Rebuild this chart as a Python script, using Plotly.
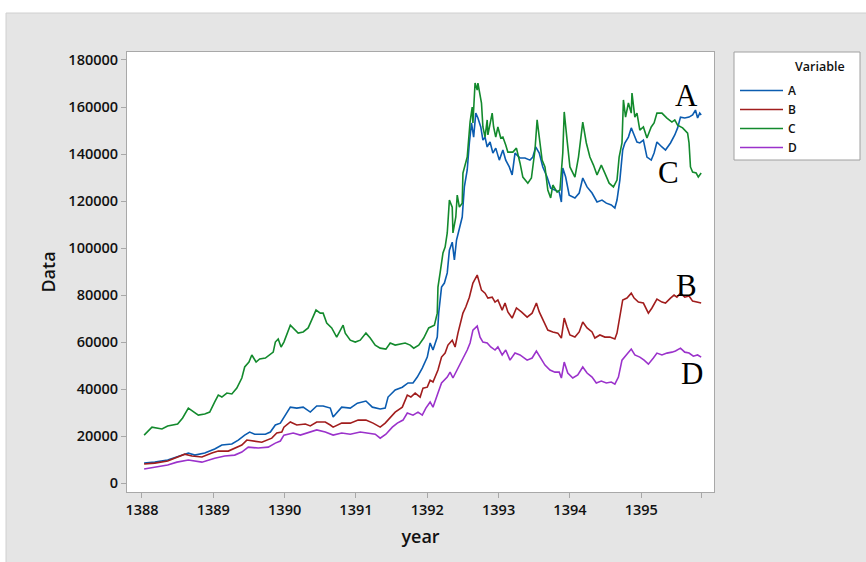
import plotly.graph_objects as go

# ---- data ----
xA = [1388.03, 1388.18, 1388.36, 1388.5, 1388.65, 1388.74, 1388.88, 1389.02, 1389.12, 1389.26, 1389.35, 1389.44,
      1389.51, 1389.58, 1389.73, 1389.8, 1389.87, 1389.94, 1389.99, 1390.08, 1390.17, 1390.26, 1390.36, 1390.45,
      1390.54, 1390.64, 1390.68, 1390.73, 1390.8, 1390.92, 1391.02, 1391.14, 1391.23, 1391.34, 1391.41, 1391.45,
      1391.55, 1391.65, 1391.73, 1391.8, 1391.86, 1391.93, 1392.0, 1392.04, 1392.08, 1392.14, 1392.16, 1392.2,
      1392.24, 1392.28, 1392.31, 1392.35, 1392.38, 1392.41, 1392.45, 1392.49, 1392.52, 1392.56, 1392.59, 1392.62,
      1392.65, 1392.68, 1392.71, 1392.75, 1392.78, 1392.81, 1392.84, 1392.88, 1392.92, 1392.96, 1393.01, 1393.06,
      1393.1, 1393.15, 1393.19, 1393.23, 1393.3, 1393.37, 1393.44, 1393.48, 1393.52, 1393.57, 1393.62, 1393.68,
      1393.73, 1393.79, 1393.85, 1393.88, 1393.9, 1393.94, 1393.99, 1394.07, 1394.13, 1394.18, 1394.24, 1394.31,
      1394.38, 1394.45, 1394.51, 1394.58, 1394.63, 1394.66, 1394.7, 1394.74, 1394.77, 1394.82, 1394.86, 1394.9,
      1394.94, 1394.98, 1395.03, 1395.08, 1395.14, 1395.18, 1395.22, 1395.29, 1395.34, 1395.41, 1395.47, 1395.51,
      1395.55, 1395.61, 1395.67, 1395.72, 1395.76, 1395.79, 1395.82, 1395.84]
A = [8500, 8900, 9800, 11100, 12800, 11900, 12800, 14500, 16200, 16600, 18300, 20400,
     21700, 20800, 20800, 21700, 24700, 25500, 28100, 32300, 31900, 32300, 30200, 32800,
     32800, 31900, 28100, 29800, 32300, 31900, 34000, 34900, 32300, 31500, 31900, 36600,
     39600, 40800, 42600, 42600, 45100, 48900, 53600, 59600, 56600, 62100, 72300, 83400,
     85100, 89400, 99100, 102500, 94900, 103400, 108900, 113200, 126000, 133200, 144700, 153200,
     147200, 157400, 155300, 151500, 145900, 147200, 143000, 145100, 140400, 142500, 137400, 141700,
     137400, 134500, 131100, 140400, 138300, 138300, 137400, 138700, 143000, 140400, 134500, 130200,
     125500, 124700, 123800, 119600, 134000, 130200, 122500, 121300, 123400, 129800, 126000, 123400,
     119600, 120400, 119100, 118300, 117000, 120400, 128900, 141700, 144700, 147200, 151100, 148100,
     145100, 144700, 145900, 138700, 137400, 140400, 145100, 143000, 141700, 144700, 148100, 151100,
     155700, 155300, 155700, 156600, 158700, 155300, 157400, 156600]

xB = [1388.03, 1388.18, 1388.36, 1388.49, 1388.6, 1388.7, 1388.84, 1388.98, 1389.07, 1389.21, 1389.3, 1389.4,
      1389.47, 1389.54, 1389.68, 1389.82, 1389.89, 1389.96, 1389.99, 1390.08, 1390.17, 1390.29, 1390.36, 1390.45,
      1390.57, 1390.64, 1390.68, 1390.8, 1390.92, 1391.03, 1391.14, 1391.24, 1391.34, 1391.41, 1391.48, 1391.55,
      1391.65, 1391.72, 1391.77, 1391.83, 1391.9, 1391.94, 1392.0, 1392.04, 1392.08, 1392.15, 1392.2, 1392.25,
      1392.29, 1392.35, 1392.39, 1392.43, 1392.5, 1392.54, 1392.59, 1392.64, 1392.7, 1392.73, 1392.76, 1392.81,
      1392.85, 1392.91, 1392.95, 1392.99, 1393.05, 1393.09, 1393.13, 1393.19, 1393.25, 1393.32, 1393.4, 1393.47,
      1393.53, 1393.57, 1393.62, 1393.69, 1393.76, 1393.83, 1393.88, 1393.92, 1393.96, 1394.0, 1394.07, 1394.13,
      1394.18, 1394.24, 1394.31, 1394.35, 1394.42, 1394.49, 1394.56, 1394.63, 1394.66, 1394.7, 1394.74, 1394.8,
      1394.86, 1394.9, 1394.96, 1395.03, 1395.07, 1395.1, 1395.15, 1395.22, 1395.29, 1395.34, 1395.41, 1395.46,
      1395.5, 1395.55, 1395.61, 1395.67, 1395.72, 1395.78, 1395.84]
B = [8100, 8500, 9400, 11100, 12300, 11500, 11100, 12800, 13600, 13600, 14900, 16200,
     18300, 17900, 17400, 19100, 21300, 21700, 23800, 26000, 24700, 25100, 24300, 26000,
     26000, 24700, 23800, 25500, 25500, 26800, 26800, 25500, 23800, 25500, 28100, 30200,
     32300, 37400, 36600, 38300, 36600, 40400, 40800, 43800, 43000, 48100, 53600, 55300,
     58700, 60800, 57900, 63800, 72300, 74900, 79100, 85100, 88500, 85500, 82100, 80800,
     78700, 79100, 77000, 77900, 73600, 76600, 72800, 70200, 74500, 72800, 70600, 72300,
     76600, 72800, 69400, 65100, 64300, 63800, 61700, 70200, 66400, 63000, 62100, 64300,
     68500, 66000, 64300, 61700, 63000, 62100, 62100, 61300, 63800, 70200, 77900, 78700,
     80800, 78700, 77000, 76600, 74500, 72300, 74500, 78300, 77000, 76600, 78700, 80000,
     79100, 80800, 79100, 79600, 77400, 77000, 76600]

xC = [1388.03, 1388.14, 1388.28, 1388.36, 1388.5, 1388.57, 1388.65, 1388.72, 1388.79, 1388.88, 1388.95, 1389.02,
      1389.07, 1389.12, 1389.19, 1389.26, 1389.33, 1389.4, 1389.44, 1389.5, 1389.54, 1389.6, 1389.65, 1389.73,
      1389.77, 1389.84, 1389.87, 1389.91, 1389.95, 1389.99, 1390.08, 1390.12, 1390.19, 1390.26, 1390.33, 1390.38,
      1390.44, 1390.5, 1390.54, 1390.59, 1390.66, 1390.73, 1390.79, 1390.82, 1390.85, 1390.92, 1390.99, 1391.06,
      1391.14, 1391.2, 1391.27, 1391.34, 1391.42, 1391.48, 1391.55, 1391.62, 1391.69, 1391.76, 1391.81, 1391.88,
      1391.95, 1392.02, 1392.1, 1392.14, 1392.15, 1392.18, 1392.22, 1392.25, 1392.28, 1392.31, 1392.35, 1392.36,
      1392.4, 1392.42, 1392.45, 1392.49, 1392.5, 1392.56, 1392.6, 1392.63, 1392.64, 1392.67, 1392.7, 1392.71,
      1392.74, 1392.76, 1392.78, 1392.81, 1392.84, 1392.85, 1392.91, 1392.93, 1392.96, 1392.99, 1393.03, 1393.06,
      1393.1, 1393.13, 1393.2, 1393.25, 1393.3, 1393.34, 1393.41, 1393.46, 1393.51, 1393.54, 1393.57, 1393.61,
      1393.65, 1393.69, 1393.73, 1393.76, 1393.82, 1393.86, 1393.9, 1393.92, 1393.96, 1394.0, 1394.07, 1394.12,
      1394.18, 1394.23, 1394.28, 1394.33, 1394.38, 1394.44, 1394.49, 1394.55, 1394.61, 1394.66, 1394.69, 1394.73,
      1394.75, 1394.78, 1394.82, 1394.86, 1394.87, 1394.91, 1394.94, 1394.98, 1395.03, 1395.08, 1395.14, 1395.18,
      1395.22, 1395.29, 1395.36, 1395.43, 1395.47, 1395.51, 1395.58, 1395.65, 1395.67, 1395.69, 1395.72, 1395.77,
      1395.8, 1395.84]
C = [20400, 23800, 23000, 24250, 25100, 27700, 31900, 30200, 28900, 29400, 30200, 34500,
     37400, 36600, 38300, 37900, 40400, 44700, 49400, 51500, 54500, 51500, 52800, 53200,
     54000, 55700, 60000, 61300, 57900, 60000, 67200, 66000, 63800, 64300, 66000, 69400,
     73600, 72300, 72300, 68100, 66000, 62100, 65100, 67200, 63800, 60800, 60000, 60800,
     63800, 61700, 58700, 57400, 57000, 59600, 58700, 59100, 59600, 58700, 57400, 58700,
     61700, 66000, 67200, 72300, 83400, 89400, 97900, 100400, 106400, 120400, 117400, 106400,
     113200, 122500, 117400, 119100, 131900, 138700, 153600, 160000, 153200, 170200, 167200, 170200,
     164200, 161700, 151500, 147200, 154500, 148100, 157400, 151500, 147200, 151500, 146800, 147200,
     143800, 140800, 140800, 142500, 136200, 130200, 127600, 129800, 141700, 154500, 147200, 137400,
     134500, 124700, 121300, 126800, 123800, 124700, 140400, 157900, 145900, 134500, 130200, 138700,
     153600, 144700, 138700, 135300, 131100, 135300, 131900, 127600, 126000, 128900, 138700, 144700,
     163000, 155700, 161700, 157400, 165900, 155700, 157400, 150200, 151500, 146800, 151500, 153200,
     157400, 157400, 155300, 153600, 154500, 152300, 151100, 148900, 144700, 134500, 132300, 131900,
     130200, 131900]

xD = [1388.03, 1388.18, 1388.36, 1388.49, 1388.65, 1388.84, 1389.02, 1389.16, 1389.3, 1389.4, 1389.49, 1389.63,
      1389.77, 1389.87, 1389.94, 1389.99, 1390.12, 1390.22, 1390.33, 1390.45, 1390.57, 1390.68, 1390.8, 1390.92,
      1391.06, 1391.17, 1391.27, 1391.34, 1391.42, 1391.51, 1391.58, 1391.66, 1391.72, 1391.8, 1391.87, 1391.93,
      1391.98, 1392.04, 1392.08, 1392.15, 1392.2, 1392.28, 1392.32, 1392.36, 1392.42, 1392.49, 1392.56, 1392.6,
      1392.64, 1392.7, 1392.74, 1392.78, 1392.84, 1392.89, 1392.95, 1392.99, 1393.05, 1393.1, 1393.16, 1393.23,
      1393.3, 1393.4, 1393.47, 1393.53, 1393.58, 1393.65, 1393.72, 1393.79, 1393.85, 1393.88, 1393.92, 1393.97,
      1394.04, 1394.11, 1394.18, 1394.24, 1394.31, 1394.37, 1394.44, 1394.51, 1394.58, 1394.63, 1394.68, 1394.73,
      1394.79, 1394.86, 1394.91, 1394.98, 1395.04, 1395.1, 1395.17, 1395.22, 1395.29, 1395.36, 1395.43, 1395.48,
      1395.55, 1395.61, 1395.67, 1395.73, 1395.79, 1395.84]
D = [6000, 6800, 7700, 8900, 9800, 8900, 10600, 11500, 11900, 13200, 15300, 14900,
     15300, 17000, 17900, 20400, 21300, 20400, 21300, 22600, 21700, 20400, 21300, 20800,
     21700, 21300, 20800, 19100, 20800, 23800, 25500, 26800, 29800, 28900, 30200, 28900,
     31900, 34500, 32300, 38300, 42600, 45100, 47200, 44700, 48100, 52300, 56600, 59600,
     65100, 66800, 62100, 60000, 59600, 57900, 56600, 57900, 54500, 56600, 52300, 55300,
     54500, 52300, 53200, 56200, 53600, 50200, 48100, 47200, 47200, 44700, 51500, 46800,
     44700, 46000, 49400, 46800, 45100, 42600, 43400, 42600, 43000, 42100, 45100, 52300,
     54500, 57000, 54500, 53600, 52300, 50600, 53200, 55300, 54500, 55300, 55700, 56200,
     57400, 55700, 55300, 54000, 54500, 53600]

series_names = ["A", "B", "C", "D"]
series_colors = ["#0B5CB0", "#A11D1D", "#138A2D", "#9B32CB"]

x_tick_vals = [1388, 1389, 1390, 1391, 1392, 1393, 1394, 1395, 1395.84]
x_tick_text = ["1388", "1389", "1390", "1391", "1392", "1393", "1394", "1395", ""]
y_tick_vals = [0, 20000, 40000, 60000, 80000, 100000, 120000, 140000, 160000, 180000]

label_text = ["A", "C", "B", "D"]
label_x = [1395.63, 1395.38, 1395.63, 1395.71]
label_y = [165100, 132300, 84200, 46800]

# ---- figure ----
W, H = 866, 562
L, R, T, Bm = 127, 866 - 714, 52, 562 - 492
pw, ph = W - L - R, H - T - Bm
UI = "Open Sans"


def px_x(px):
    return (px - L) / pw


def px_y(py):
    return (H - Bm - py) / ph


fig = go.Figure()
for name, xs, ys, col in zip(series_names, [xA, xB, xC, xD], [A, B, C, D], series_colors):
    fig.add_trace(go.Scatter(x=xs, y=ys, mode="lines", name=name,
                             line=dict(color=col, width=1.6)))

for t, lx, ly in zip(label_text, label_x, label_y):
    fig.add_annotation(x=lx, y=ly, text=t, showarrow=False, xanchor="center", yanchor="middle",
                       font=dict(family="Liberation Serif", size=31, color="black"))

# white page strips outside the grey frame, and frame edge
fig.add_shape(type="rect", xref="paper", yref="paper", x0=px_x(-5), x1=px_x(W + 5),
              y0=px_y(13), y1=px_y(-5), fillcolor="white", line=dict(width=0), layer="above")
fig.add_shape(type="rect", xref="paper", yref="paper", x0=px_x(-5), x1=px_x(6),
              y0=px_y(H + 5), y1=px_y(-5), fillcolor="white", line=dict(width=0), layer="above")
fig.add_shape(type="rect", xref="paper", yref="paper", x0=px_x(6), x1=px_x(W + 5),
              y0=px_y(H + 5), y1=px_y(13), fillcolor="rgba(0,0,0,0)",
              line=dict(color="#d0d0d0", width=1), layer="above")

# legend box
fig.add_shape(type="rect", xref="paper", yref="paper", x0=px_x(734), x1=px_x(860),
              y0=px_y(160), y1=px_y(52), fillcolor="white",
              line=dict(color="#a0a0a0", width=1), layer="below")
fig.add_annotation(xref="paper", yref="paper", x=px_x(820), y=px_y(66), text="Variable",
                   showarrow=False, xanchor="center", yanchor="middle",
                   font=dict(family=UI, size=12.5, weight=600, color="#111111"))

fig.update_layout(
    width=W, height=H,
    margin=dict(l=L, r=R, t=T, b=Bm, pad=0, autoexpand=False),
    paper_bgcolor="#e5e5e5",
    plot_bgcolor="white",
    font=dict(family=UI, size=13, color="#111111"),
    showlegend=True,
    legend=dict(
        x=px_x(735), y=px_y(76), xanchor="left", yanchor="top",
        bgcolor="rgba(0,0,0,0)", borderwidth=0,
        font=dict(family=UI, size=12, color="#111111", weight=600),
        itemwidth=43, tracegroupgap=0,
    ),
    xaxis=dict(
        range=[1387.79, 1396.02], tickmode="array", tickvals=x_tick_vals, ticktext=x_tick_text,
        showgrid=False, zeroline=False, showline=True, mirror=True, linecolor="#a8a8a8", linewidth=1,
        ticks="outside", ticklen=5, tickcolor="#a8a8a8", automargin=False,
        tickfont=dict(family=UI, size=14.5, weight=600, color="#111111"),
        title=dict(text="year", font=dict(family=UI, size=18, weight=600, color="#111111"), standoff=11),
    ),
    yaxis=dict(
        range=[-3800, 183400], tickmode="array", tickvals=y_tick_vals, tickformat="d",
        showgrid=False, zeroline=False, showline=True, mirror=True, linecolor="#a8a8a8", linewidth=1,
        ticks="outside", ticklen=5, tickcolor="#a8a8a8", automargin=False,
        tickfont=dict(family=UI, size=14.5, weight=600, color="#111111"),
        title=dict(text="Data", font=dict(family=UI, size=18, weight=600, color="#111111"), standoff=8),
    ),
)

fig.write_html("out.html", config={"displayModeBar": False},
               post_script="document.body.style.margin='0px';")
